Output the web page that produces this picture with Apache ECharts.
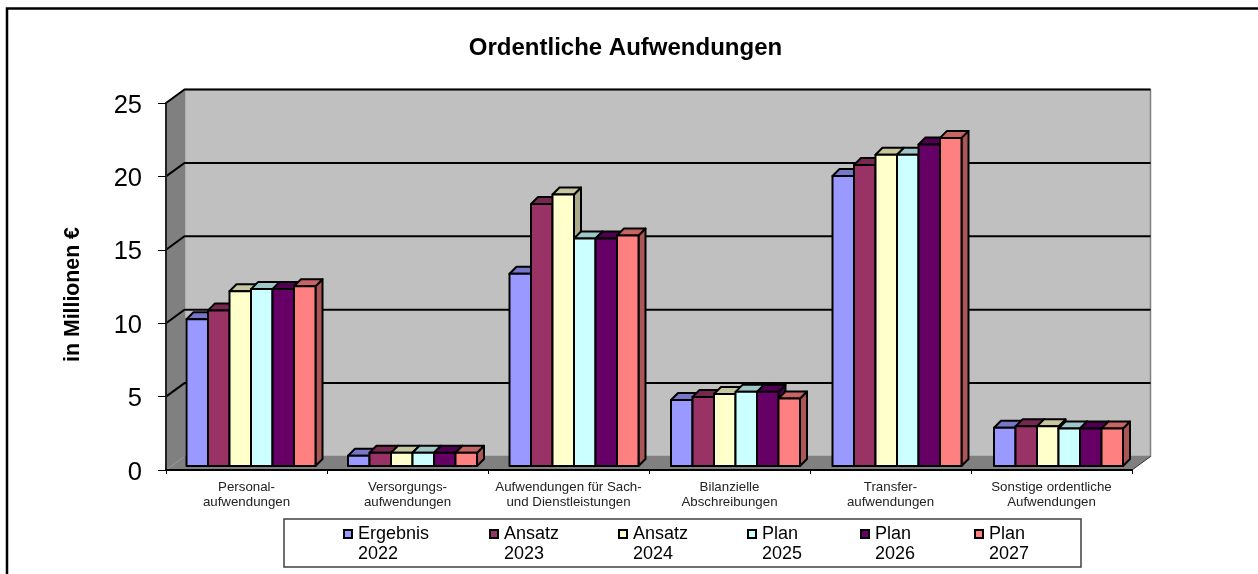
<!DOCTYPE html>
<html>
<head>
<meta charset="utf-8">
<style>html,body{margin:0;padding:0;background:#fff}#chart{width:1258px;height:574px}</style>
<script src="https://cdn.jsdelivr.net/npm/echarts@6/dist/echarts.min.js"></script>
</head>
<body>
<div id="chart"></div>
<script>
const categories = ['Personal-\naufwendungen', 'Versorgungs-\naufwendungen', 'Aufwendungen für Sach-\nund Dienstleistungen', 'Bilanzielle\nAbschreibungen', 'Transfer-\naufwendungen', 'Sonstige ordentliche\nAufwendungen'];
const seriesNames = ['Ergebnis\n2022', 'Ansatz\n2023', 'Ansatz\n2024', 'Plan\n2025', 'Plan\n2026', 'Plan\n2027'];
const colors = ['#9999ff', '#993366', '#ffffcc', '#ccffff', '#660066', '#ff8080'];
const ergebnis2022 = [10.0, 0.7, 13.1, 4.5, 19.75, 2.6];
const ansatz2023 = [10.6, 0.9, 17.85, 4.7, 20.5, 2.7];
const ansatz2024 = [11.9, 0.9, 18.5, 4.9, 21.2, 2.7];
const plan2025 = [12.05, 0.9, 15.5, 5.05, 21.2, 2.55];
const plan2026 = [12.05, 0.9, 15.5, 5.05, 21.9, 2.55];
const plan2027 = [12.25, 0.9, 15.7, 4.6, 22.35, 2.55];
const seriesValues = [ergebnis2022, ansatz2023, ansatz2024, plan2025, plan2026, plan2027];
const yTicks = [5, 10, 15, 20, 25];
const legendLeft = [342, 488, 617, 746, 859, 973];

const font = '"Liberation Sans", Arial, sans-serif';
// wall depth and bar depth of the fake 3d look
const wallX = 18.5, wallY = -13.5;
const barX = 7, barY = -7;
const shiftX = 4.5, shiftY = -4;
const legendIcon = 'path://M0,0L0,0M1,6H9V14H1ZM10,40L10,40';

function poly(points, fill, stroke, lineWidth) {
  return {
    type: 'polygon',
    shape: { points: points },
    style: { fill: fill, stroke: stroke || null, lineWidth: lineWidth || 0, lineJoin: 'round' }
  };
}

function shade(color, k) {
  const c = echarts.color.parse(color);
  return 'rgb(' + Math.round(c[0] * k) + ',' + Math.round(c[1] * k) + ',' + Math.round(c[2] * k) + ')';
}

function renderWalls(params, api) {
  const size = api.size([1, 0])[0];
  const origin = api.coord([0, 0]);
  const left = origin[0] - size / 2;
  const bottom = origin[1];
  const right = left + size * categories.length;
  const top = api.coord([0, 25])[1];
  const children = [];
  if (params.dataIndex === 0) {
    children.push(poly([[left, bottom], [left + wallX, bottom + wallY], [left + wallX, top + wallY], [left, top]], '#808080'));
    children.push(poly([[left + wallX, bottom + wallY], [right + wallX, bottom + wallY], [right + wallX, top + wallY], [left + wallX, top + wallY]], '#c0c0c0', '#808080', 1.5));
    children.push(poly([[left, bottom], [right, bottom], [right + wallX, bottom + wallY], [left + wallX, bottom + wallY]], '#808080'));
    children.push({ type: 'line', shape: { x1: right, y1: bottom, x2: right + wallX, y2: bottom + wallY }, style: { stroke: '#333', lineWidth: 1 } });
  }
  const y = api.coord([0, api.value(0)])[1];
  children.push({
    type: 'polyline',
    shape: { points: [[left, y], [left + wallX, y + wallY], [right + wallX, y + wallY]] },
    style: { fill: null, stroke: '#000', lineWidth: 2 }
  });
  return { type: 'group', children: children };
}

function renderBar(params, api) {
  const cat = api.value(0);
  const w = 21.5;
  // bar groups sit a touch wider apart than the axis ticks
  const center = api.coord([cat, 0])[0] + shiftX + cat * 0.5;
  const x = center + (params.seriesIndex - 4) * w;
  const y0 = api.coord([cat, 0])[1] + shiftY;
  const y1 = api.coord([cat, api.value(1)])[1] + shiftY;
  const c = api.visual('color');
  const lw = 2;
  return {
    type: 'group',
    children: [
      poly([[x + w, y0], [x + w + barX, y0 + barY], [x + w + barX, y1 + barY], [x + w, y1]], shade(c, 0.67), '#000', lw),
      poly([[x, y1], [x + barX, y1 + barY], [x + w + barX, y1 + barY], [x + w, y1]], shade(c, 0.78), '#000', lw),
      poly([[x, y0], [x + w, y0], [x + w, y1], [x, y1]], c, '#000', lw)
    ]
  };
}

const chart = echarts.init(document.getElementById('chart'), null, { renderer: 'canvas' });

const series = [{
  type: 'custom',
  name: 'walls',
  renderItem: renderWalls,
  data: yTicks.map(v => [v]),
  encode: { y: 0 },
  silent: true,
  clip: false,
  z: 1
}];
seriesNames.forEach((name, s) => {
  series.push({
    type: 'custom',
    name: name,
    renderItem: renderBar,
    data: seriesValues[s].map((v, i) => [i, v]),
    encode: { x: 0, y: 1 },
    itemStyle: { color: colors[s] },
    clip: false,
    z: 2
  });
});

chart.setOption({
  animation: false,
  backgroundColor: '#fff',
  title: {
    text: 'Ordentliche Aufwendungen',
    left: 620.5,
    top: 31,
    textAlign: 'center',
    textStyle: { fontFamily: font, fontSize: 24, fontWeight: 'bold', color: '#000' }
  },
  grid: { left: 166, right: 126, top: 103, bottom: 104 },
  xAxis: {
    type: 'category',
    data: categories,
    z: 5,
    axisLine: { show: true, lineStyle: { color: '#000', width: 2 } },
    axisTick: { show: true, length: 4, lineStyle: { color: '#000', width: 1 } },
    axisLabel: { interval: 0, fontFamily: font, fontSize: 13.3, lineHeight: 15, color: '#222', margin: 10 },
    splitLine: { show: false }
  },
  yAxis: {
    type: 'value',
    min: 0,
    max: 25,
    interval: 5,
    z: 5,
    name: 'in Millionen €',
    nameLocation: 'middle',
    nameRotate: 90,
    nameGap: 82,
    nameMoveOverlap: false,
    nameTextStyle: { fontFamily: font, fontSize: 21.3, fontWeight: 'bold', color: '#000', padding: [0, 16, 0, 0] },
    axisLine: { show: true, lineStyle: { color: '#222', width: 2 } },
    axisTick: { show: true, length: 8, lineStyle: { color: '#000', width: 1 } },
    axisLabel: {
      margin: 24,
      formatter: '{v|{value}}',
      rich: { v: { fontFamily: font, fontSize: 25.5, color: '#000', padding: [5, 0, 0, 0] } }
    },
    splitLine: { show: false }
  },
  legend: seriesNames.map((name, s) => ({
    data: [name],
    left: legendLeft[s],
    top: 523,
    padding: 0,
    itemWidth: 10,
    itemHeight: 40,
    icon: legendIcon,
    selectedMode: false,
    itemStyle: { borderColor: '#000', borderWidth: 2 },
    textStyle: { fontFamily: font, fontSize: 18, lineHeight: 20, color: '#000' }
  })),
  graphic: [
    { type: 'polyline', z: 0, shape: { points: [[7, 574], [7, 8.5], [1258, 8.5]] }, style: { fill: null, stroke: '#000', lineWidth: 2.5 } },
    { type: 'rect', z: 0, shape: { x: 284, y: 519, width: 797, height: 48 }, style: { fill: '#fff', stroke: '#404040', lineWidth: 1.5 } }
  ],
  series: series
});
</script>
</body>
</html>
